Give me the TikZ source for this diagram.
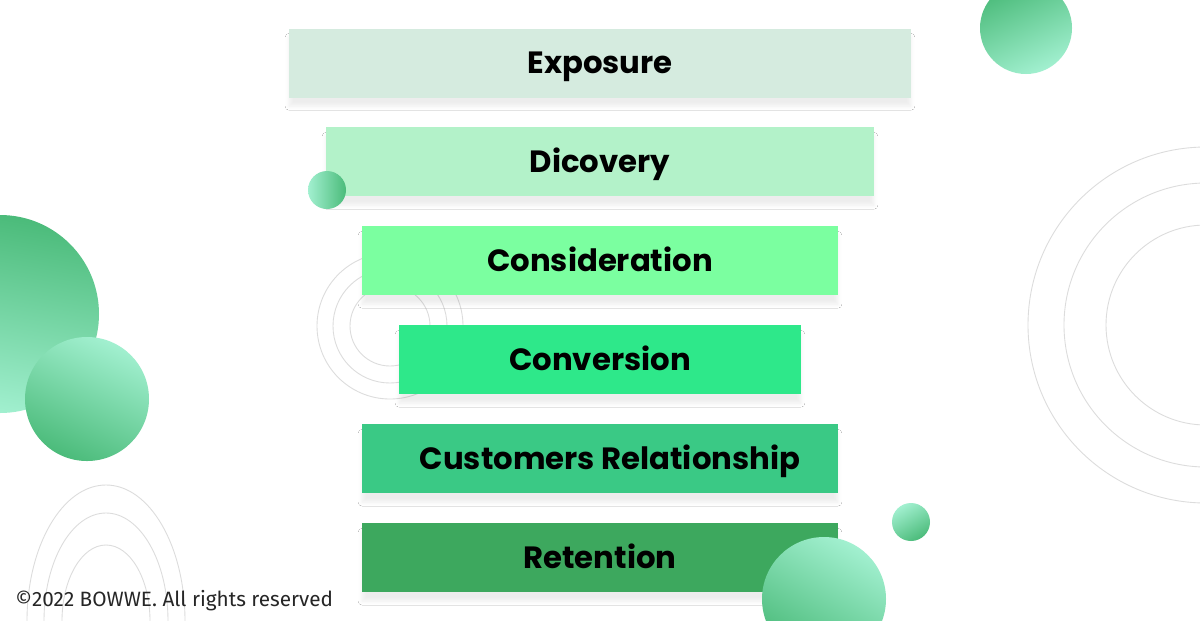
\documentclass[tikz,border=0pt]{standalone}
\usepackage{fontspec}
\setmainfont{Poppins}
\newfontfamily\notefont{Fira Sans}
\usetikzlibrary{shadows.blur}

\definecolor{expC}{HTML}{D5EBDF}
\definecolor{disC}{HTML}{B3F2C9}
\definecolor{conC}{HTML}{7BFFA0}
\definecolor{cvnC}{HTML}{2EE88A}
\definecolor{relC}{HTML}{3AC985}
\definecolor{retC}{HTML}{3DA85E}
\definecolor{darkG}{HTML}{4BBB7A}
\definecolor{lightG}{HTML}{A2F0D0}
\definecolor{ringC}{HTML}{DCDCDC}

\begin{document}
\begin{tikzpicture}[x=0.02cm, y=-0.02cm, node distance=1.98cm,
	stage/.style={rectangle, minimum height=1.38cm, inner sep=0pt,
		text height=12.3pt, text depth=0pt,
		font=\fontsize{17.5}{20}\selectfont\bfseries,
		blur shadow={shadow xshift=0pt, shadow yshift=-5pt,
			shadow opacity=7, shadow blur steps=6}},
	ring/.style={draw=ringC, line width=0.5pt},
	ball/.style n args={3}{top color=#1, bottom color=#2, shading angle=#3},
	]

	% Canvas
	\fill[white] (0,0) rectangle (1200,620);
	\useasboundingbox (0,0) rectangle (1200,620);

	% Rings behind the stages
	\foreach \r in {178,142,100}
		\draw[ring] (1206,325) circle (\r);
	\foreach \r in {73,57,40}
		\draw[ring] (390,326) circle (\r);
	\foreach \a/\b in {79/136,62/108,44/76}
		\draw[ring] (106,621) ellipse ({\a} and {\b});

	% Big balls on the left and top right
	\shade[ball={darkG}{lightG}{-10}] (0,314) circle (99);
	\shade[ball={lightG}{darkG}{-25}] (87,399) circle (62);
	\shade[ball={darkG}{lightG}{25}] (1026,28) circle (46);

	% Stages {exp, dis, con, cvn, rel, ret}
	\node [stage, fill=expC, minimum width=12.44cm] (exp) at (600,63) {Exposure};
	\node [stage, fill=disC, minimum width=10.96cm] (dis) [below of=exp] {Dicovery};
	\node [stage, fill=conC, minimum width=9.52cm]  (con) [below of=dis] {Consideration};
	\node [stage, fill=cvnC, minimum width=8.04cm]  (cvn) [below of=con] {Conversion};
	\node [stage, fill=relC, minimum width=9.52cm]  (rel) [below of=cvn] {\hspace*{0.4cm}Customers Relationship};
	\node [stage, fill=retC, minimum width=9.52cm]  (ret) [below of=rel] {Retention};

	% Small balls on top of the stages
	\shade[ball={lightG}{darkG}{90}] (327,190) circle (19);
	\shade[ball={lightG}{darkG}{30}] (911,522) circle (19);
	\shade[ball={lightG}{darkG}{-30}] (824,599) circle (62);

	% Footer
	\node [anchor=base west, inner sep=0pt, text=black!85,
		font=\notefont\fontsize{11.8}{14}\selectfont]
		(note) at (15,606) {©2022 BOWWE. All rights reserved};

\end{tikzpicture}
\end{document}
